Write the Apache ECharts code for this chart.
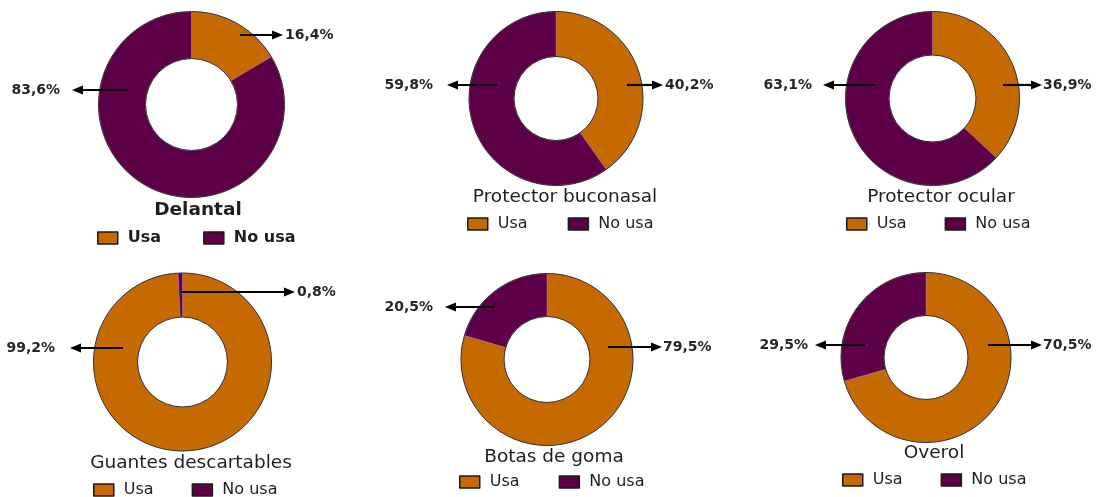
<!DOCTYPE html>
<html>
<head>
<meta charset="utf-8">
<title>Uso de elementos de protección</title>
<script src="https://cdn.jsdelivr.net/npm/echarts@6/dist/echarts.min.js"></script>
<style>
  html, body { margin: 0; padding: 0; background: #fff; }
  #chart { width: 1096px; height: 497px; }
</style>
</head>
<body>
<div id="chart"></div>
<script>
// Protective equipment, share of workers who use it / do not use it (%)
const categories = ['Delantal', 'Protector buconasal', 'Protector ocular',
                    'Guantes descartables', 'Botas de goma', 'Overol'];
const legendNames = ['Usa', 'No usa'];
const usaValues   = [16.4, 40.2, 36.9, 99.2, 79.5, 70.5];
const noUsaValues = [83.6, 59.8, 63.1, 0.8, 20.5, 29.5];

const sliceColors = ['#C46A00', '#5E0047'];
const FONT = 'DejaVu Sans';

// Panel layout (pixels): donut centre and radii, title centre, legend anchor,
// and for each slice (Usa, No usa) its value label and arrow.
const panels = [
  { center: [191.5, 104.5], radius: [46, 93], title: [198, 210], legend: [97, 238], gap: 42, bold: true,
    labels: [ { x: 285, y: 35, side: 'left',  from: 240, tip: 283 },
              { x: 60,  y: 90, side: 'right', from: 128, tip: 72 } ] },
  { center: [556, 98.5], radius: [42, 87], title: [565, 197], legend: [467, 224], gap: 40,
    labels: [ { x: 665, y: 85, side: 'left',  from: 627, tip: 663 },
              { x: 433, y: 85, side: 'right', from: 497, tip: 447 } ] },
  { center: [932.5, 98.5], radius: [43.5, 87], title: [941, 197], legend: [846, 224], gap: 38,
    labels: [ { x: 1043, y: 85, side: 'left',  from: 1003, tip: 1042 },
              { x: 812,  y: 85, side: 'right', from: 875,  tip: 823 } ] },
  { center: [182.5, 362], radius: [45, 89], title: [191, 463], legend: [93, 490], gap: 38,
    labels: [ { x: 55,  y: 348, side: 'right', from: 123, tip: 70 },
              { x: 297, y: 292, side: 'left',  from: 182, tip: 295 } ] },
  { center: [547, 359.5], radius: [43, 86], title: [554, 457], legend: [459, 482], gap: 39,
    labels: [ { x: 663, y: 347, side: 'left',  from: 608, tip: 662 },
              { x: 433, y: 307, side: 'right', from: 495, tip: 445 } ] },
  { center: [926, 357.5], radius: [42, 85], title: [934, 453], legend: [842, 480], gap: 38,
    labels: [ { x: 1043, y: 345, side: 'left',  from: 988, tip: 1042 },
              { x: 808,  y: 345, side: 'right', from: 865, tip: 815 } ] }
];

const fmtPct = v => v.toFixed(1).replace('.', ',') + '%';

const series = categories.map((name, i) => {
  const p = panels[i];
  return {
    type: 'pie',
    name: name,
    center: p.center,
    radius: p.radius,
    startAngle: 90,
    clockwise: true,
    avoidLabelOverlap: false,
    silent: true,
    emphasis: { disabled: true },
    itemStyle: { borderColor: 'rgba(190,120,170,0.7)', borderWidth: 0.6 },
    label: {
      show: true,
      position: 'outside',
      formatter: prm => fmtPct(prm.value),
      fontFamily: FONT,
      fontSize: 14,
      fontWeight: 'bold',
      color: '#262626'
    },
    labelLine: { show: false },
    labelLayout: prm => {
      const a = p.labels[prm.dataIndex];
      return { x: a.x, y: a.y, align: a.side, verticalAlign: 'middle' };
    },
    data: [
      { name: legendNames[0], value: usaValues[i] },
      { name: legendNames[1], value: noUsaValues[i] }
    ]
  };
});

const titles = categories.map((name, i) => {
  const p = panels[i];
  return {
    text: name,
    left: p.title[0],
    top: p.title[1],
    textAlign: 'center',
    textVerticalAlign: 'middle',
    padding: 0,
    textStyle: { fontFamily: FONT, fontSize: 18.5, fontWeight: p.bold ? 'bold' : 'normal', color: '#1e1e1e' }
  };
});

const legends = panels.map(p => ({
  data: legendNames,
  left: p.legend[0],
  top: p.legend[1] - 8,
  padding: 0,
  icon: 'rect',
  itemWidth: 20,
  itemHeight: 12,
  itemGap: p.gap,
  selectedMode: false,
  itemStyle: { borderColor: '#1a1a1a', borderWidth: 1.5 },
  textStyle: { fontFamily: FONT, fontSize: 16, lineHeight: 16, color: '#1e1e1e',
               fontWeight: p.bold ? 'bold' : 'normal', padding: [0, 0, 0, 5] }
}));

// Dark outline around each ring, and the arrows leading to the value labels
const graphics = [];
panels.forEach(p => {
  graphics.push({
    type: 'ring', silent: true, z: 20,
    shape: { cx: p.center[0], cy: p.center[1], r: p.radius[1], r0: p.radius[0] },
    style: { fill: 'none', stroke: '#333', lineWidth: 1 }
  });
  p.labels.forEach(a => {
    const dir = a.tip > a.from ? 1 : -1;
    const head = 11, half = 4.5;
    graphics.push({
      type: 'line', silent: true, z: 30,
      shape: { x1: a.from, y1: a.y, x2: a.tip - dir * (head - 2), y2: a.y },
      style: { stroke: '#000', lineWidth: 2.2 }
    });
    graphics.push({
      type: 'polygon', silent: true, z: 30,
      shape: { points: [[a.tip, a.y], [a.tip - dir * head, a.y - half], [a.tip - dir * head, a.y + half]] },
      style: { fill: '#000' }
    });
  });
});

const chart = echarts.init(document.getElementById('chart'), null, { renderer: 'canvas' });
chart.setOption({
  animation: false,
  backgroundColor: '#fff',
  color: sliceColors,
  title: titles,
  legend: legends,
  series: series,
  graphic: graphics
});
</script>
</body>
</html>
